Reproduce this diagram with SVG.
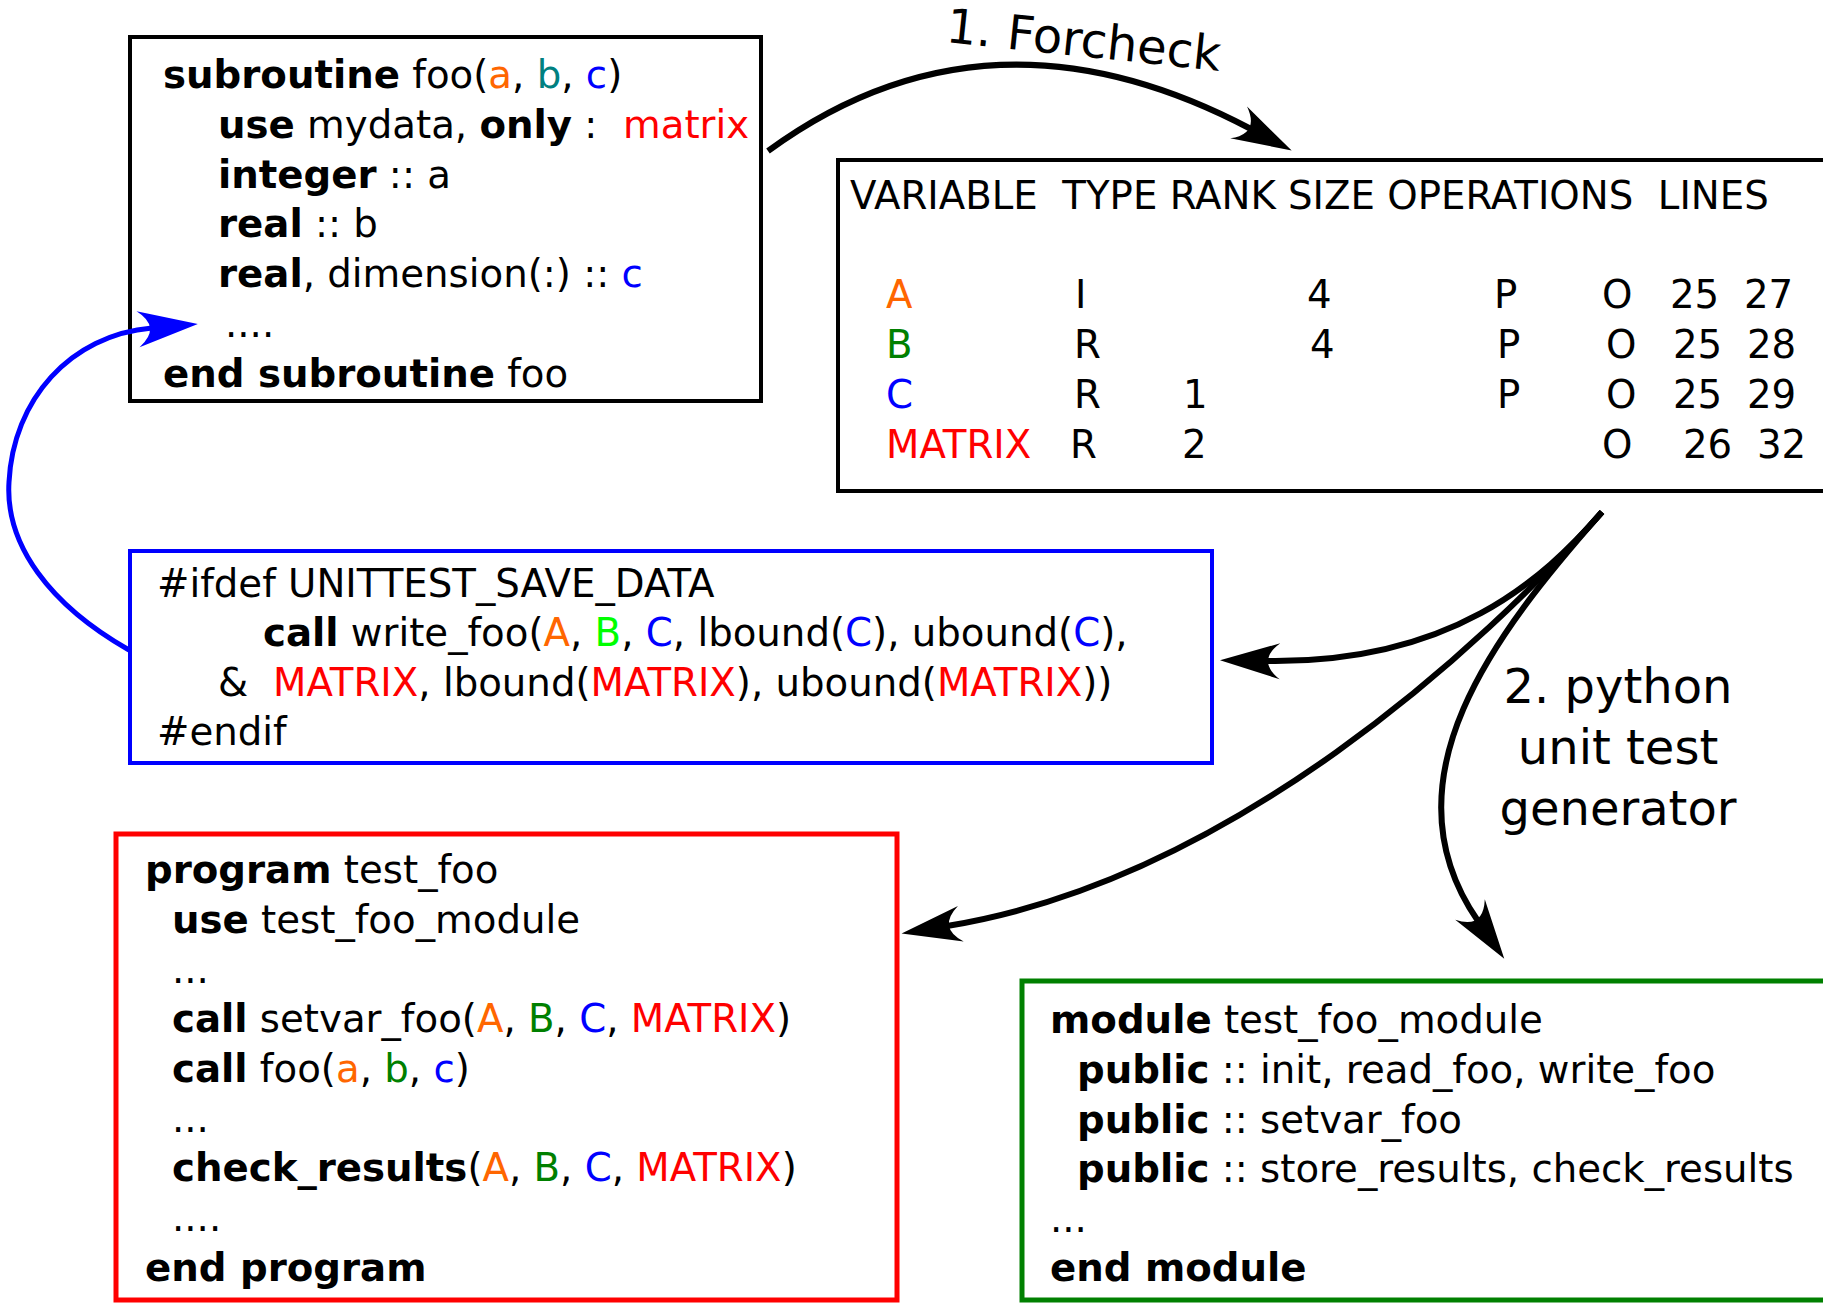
<svg xmlns="http://www.w3.org/2000/svg" width="1823" height="1303" viewBox="0 0 1823 1303">
<defs>
<style>
text { font-family: "DejaVu Sans", "Noto Sans", sans-serif; font-size: 38.7px; fill: #000; }
.b { font-weight: bold; }
.o { fill: #ff6600; }
.tl { fill: #008080; }
.bl { fill: #0000ff; }
.r { fill: #ff0000; }
.g { fill: #008000; }
.lg { fill: #00ff00; }
.lbl { font-size: 48px; }
.box { fill: #fff; stroke-width: 4; }
.conn { fill: none; stroke: #000; stroke-width: 6; }
</style>
<marker id="ah" markerUnits="userSpaceOnUse" markerWidth="70" markerHeight="44" viewBox="-5 -22 70 44" refX="14" refY="0" orient="auto">
<path d="M60,0 L0,-18 Q24,0 0,18 Z" fill="#000"/>
</marker>
<marker id="ahb" markerUnits="userSpaceOnUse" markerWidth="70" markerHeight="44" viewBox="-5 -22 70 44" refX="14" refY="0" orient="auto">
<path d="M60,0 L0,-18 Q24,0 0,18 Z" fill="#0000ff"/>
</marker>
</defs>
<rect width="1823" height="1303" fill="#fff"/>

<g id="node-subroutine">
<rect class="box" x="130" y="37" width="631" height="364" stroke="#000"/>
<text x="163" y="88" xml:space="preserve"><tspan class="b">subroutine</tspan> foo(<tspan class="o">a</tspan>, <tspan class="tl">b</tspan>, <tspan class="bl">c</tspan>)</text>
<text x="218" y="138" xml:space="preserve"><tspan class="b">use</tspan> mydata, <tspan class="b">only</tspan> :<tspan x="623" class="r">matrix</tspan></text>
<text x="218" y="188" xml:space="preserve"><tspan class="b">integer</tspan> :: a</text>
<text x="218" y="237" xml:space="preserve"><tspan class="b">real</tspan> :: b</text>
<text x="218" y="287" xml:space="preserve"><tspan class="b">real</tspan>, dimension(:) :: <tspan class="bl">c</tspan></text>
<text x="225" y="337">....</text>
<text x="163" y="387" xml:space="preserve"><tspan class="b">end subroutine</tspan> foo</text>
</g>

<g id="node-forcheck-table">
<rect class="box" x="838" y="160" width="1000" height="331" stroke="#000"/>
<text x="850" y="209" xml:space="preserve">VARIABLE  TYPE RANK SIZE OPERATIONS  LINES</text>
<text y="308"><tspan x="886" class="o">A</tspan><tspan x="1075">I</tspan><tspan x="1307">4</tspan><tspan x="1494">P</tspan><tspan x="1602">O</tspan><tspan x="1670">25</tspan><tspan x="1744">27</tspan></text>
<text y="358"><tspan x="886" class="g">B</tspan><tspan x="1074">R</tspan><tspan x="1310">4</tspan><tspan x="1497">P</tspan><tspan x="1606">O</tspan><tspan x="1673">25</tspan><tspan x="1747">28</tspan></text>
<text y="408"><tspan x="886" class="bl">C</tspan><tspan x="1074">R</tspan><tspan x="1183">1</tspan><tspan x="1497">P</tspan><tspan x="1606">O</tspan><tspan x="1673">25</tspan><tspan x="1747">29</tspan></text>
<text y="458"><tspan x="886" class="r">MATRIX</tspan><tspan x="1070">R</tspan><tspan x="1182">2</tspan><tspan x="1602">O</tspan><tspan x="1683">26</tspan><tspan x="1757">32</tspan></text>
</g>

<g id="node-write-data">
<rect class="box" x="130" y="551" width="1082" height="212" stroke="#0000ff"/>
<text x="157" y="597">#ifdef UNITTEST_SAVE_DATA</text>
<text x="263" y="646" xml:space="preserve"><tspan class="b">call</tspan> write_foo(<tspan class="o">A</tspan>, <tspan class="lg">B</tspan>, <tspan class="bl">C</tspan>, lbound(<tspan class="bl">C</tspan>), ubound(<tspan class="bl">C</tspan>),</text>
<text x="218" y="696" xml:space="preserve">&amp;<tspan x="273" class="r">MATRIX</tspan>, lbound(<tspan class="r">MATRIX</tspan>), ubound(<tspan class="r">MATRIX</tspan>))</text>
<text x="157" y="745">#endif</text>
</g>

<g id="node-test-program">
<rect x="116" y="834" width="781" height="466" fill="#fff" stroke="#ff0000" stroke-width="5"/>
<text x="145" y="883" xml:space="preserve"><tspan class="b">program</tspan> test_foo</text>
<text x="172" y="933" xml:space="preserve"><tspan class="b">use</tspan> test_foo_module</text>
<text x="172" y="983">...</text>
<text x="172" y="1032" xml:space="preserve"><tspan class="b">call</tspan> setvar_foo(<tspan class="o">A</tspan>, <tspan class="g">B</tspan>, <tspan class="bl">C</tspan>, <tspan class="r">MATRIX</tspan>)</text>
<text x="172" y="1082" xml:space="preserve"><tspan class="b">call</tspan> foo(<tspan class="o">a</tspan>, <tspan class="g">b</tspan>, <tspan class="bl">c</tspan>)</text>
<text x="172" y="1132">...</text>
<text x="172" y="1181" xml:space="preserve"><tspan class="b">check_results</tspan>(<tspan class="o">A</tspan>, <tspan class="g">B</tspan>, <tspan class="bl">C</tspan>, <tspan class="r">MATRIX</tspan>)</text>
<text x="172" y="1231">....</text>
<text x="145" y="1281" class="b">end program</text>
</g>

<g id="node-test-module">
<rect x="1022" y="981" width="820" height="319" fill="#fff" stroke="#008000" stroke-width="5"/>
<text x="1050" y="1033" xml:space="preserve"><tspan class="b">module</tspan> test_foo_module</text>
<text x="1077" y="1083" xml:space="preserve"><tspan class="b">public</tspan> :: init, read_foo, write_foo</text>
<text x="1077" y="1133" xml:space="preserve"><tspan class="b">public</tspan> :: setvar_foo</text>
<text x="1077" y="1182" xml:space="preserve"><tspan class="b">public</tspan> :: store_results, check_results</text>
<text x="1050" y="1232">...</text>
<text x="1050" y="1281" class="b">end module</text>
</g>

<g id="connectors">
<path class="conn" d="M768,151 Q988,-10 1251,129" marker-end="url(#ah)"/>
<path d="M129,650 C50,605 5,545 9,482 C13,400 70,335 152,328" fill="none" stroke="#0000ff" stroke-width="5" marker-end="url(#ahb)"/>
<path class="conn" d="M1602,512 C1543,580 1450,664 1266,661" marker-end="url(#ah)"/>
<path class="conn" d="M1602,512 C1483,647 1230,880 947,926" marker-end="url(#ah)"/>
<path class="conn" d="M1602,512 C1496,632 1380,780 1478,921" marker-end="url(#ah)"/>
<text class="lbl" x="945" y="42" transform="rotate(6 945 42)">1. Forcheck</text>
<text class="lbl" x="1618" y="703" text-anchor="middle">2. python</text>
<text class="lbl" x="1618" y="764" text-anchor="middle">unit test</text>
<text class="lbl" x="1618" y="825" text-anchor="middle">generator</text>
</g>
</svg>
